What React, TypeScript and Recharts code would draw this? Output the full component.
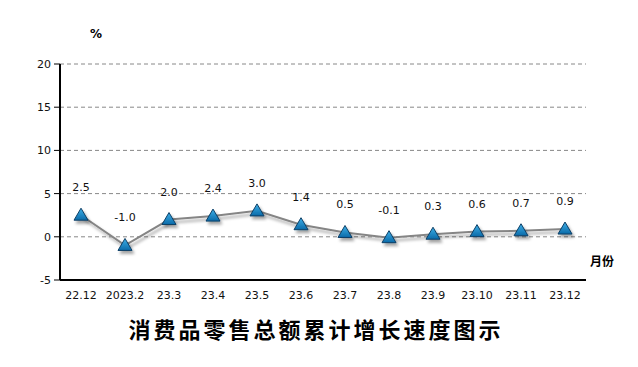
import { LineChart, Line, XAxis, YAxis, CartesianGrid, LabelList } from "recharts";

const months = ["22.12", "2023.2", "23.3", "23.4", "23.5", "23.6", "23.7", "23.8", "23.9", "23.10", "23.11", "23.12"];
const growth = [2.5, -1.0, 2.0, 2.4, 3.0, 1.4, 0.5, -0.1, 0.3, 0.6, 0.7, 0.9];
const yTicks = [-5, 0, 5, 10, 15, 20];

const data = months.map((m, i) => ({ month: m, value: growth[i] }));

// blue triangle marker with a soft shadow
function TriangleDot(props: { cx?: number; cy?: number; index?: number }) {
  const { cx, cy, index } = props;
  if (cx == null || cy == null) return null;
  const w = 7;
  const d = `M${cx},${cy - 7} L${cx + w},${cy + 5} L${cx - w},${cy + 5} Z`;
  return (
    <g key={index}>
      <path d={d} fill="url(#triFill)" stroke="#0b3f66" strokeWidth={1} filter="url(#shadow)" />
    </g>
  );
}

export default function App() {
  return (
    <div style={{ position: "absolute", left: 0, top: 0, width: 638, height: 367, background: "#fff" }}>
      <LineChart width={638} height={367} data={data} margin={{ top: 64, right: 52, bottom: 57, left: 0 }}>
        <defs>
          <linearGradient id="triFill" x1="0" y1="0" x2="0" y2="1">
            <stop offset="0%" stopColor="#3fb0e8" />
            <stop offset="100%" stopColor="#0a6aa8" />
          </linearGradient>
          <filter id="shadow" x="-50%" y="-50%" width="200%" height="200%">
            <feDropShadow dx="2" dy="3" stdDeviation="1.5" floodColor="#000" floodOpacity="0.35" />
          </filter>
        </defs>
        <CartesianGrid vertical={false} stroke="#888" strokeDasharray="4 3" />
        <XAxis
          dataKey="month"
          height={30}
          padding={{ left: 21, right: 21 }}
          tickLine={false}
          tickSize={6}
          tickMargin={5}
          axisLine={{ stroke: "#000", strokeWidth: 2 }}
          tick={{ fontSize: 11, fill: "#111", fontFamily: "Verdana, DejaVu Sans, sans-serif" }}
          interval={0}
        />
        <YAxis
          type="number"
          domain={[-5, 20]}
          ticks={yTicks}
          width={60}
          tickSize={6}
          tickMargin={3}
          tickLine={{ stroke: "#000", strokeWidth: 1 }}
          axisLine={{ stroke: "#000", strokeWidth: 2 }}
          tick={{ fontSize: 11, fill: "#111", fontFamily: "Verdana, DejaVu Sans, sans-serif" }}
        />
        <Line
          type="linear"
          dataKey="value"
          stroke="#858585"
          strokeWidth={2}
          dot={<TriangleDot />}
          activeDot={false}
          isAnimationActive={false}
          style={{ filter: "url(#shadow)" }}
        >
          <LabelList
            dataKey="value"
            position="top"
            offset={24}
            formatter={(v: unknown) => (v as number).toFixed(1)}
            style={{ fontSize: 11, fill: "#111", fontFamily: "Verdana, DejaVu Sans, sans-serif" }}
          />
        </Line>
        <text x={96} y={38} textAnchor="middle" fontSize={12} fontWeight="bold" fill="#000" fontFamily="Verdana, DejaVu Sans, sans-serif">%</text>
        <text x={602} y={266} textAnchor="middle" fontSize={12} fontWeight="bold" fill="#000" fontFamily="Noto Sans CJK SC, sans-serif">月份</text>
        <text x={316} y={338} textAnchor="middle" fontSize={22} fontWeight="bold" fill="#000" letterSpacing={3} fontFamily="Noto Sans CJK SC, sans-serif">消费品零售总额累计增长速度图示</text>
      </LineChart>
    </div>
  );
}
